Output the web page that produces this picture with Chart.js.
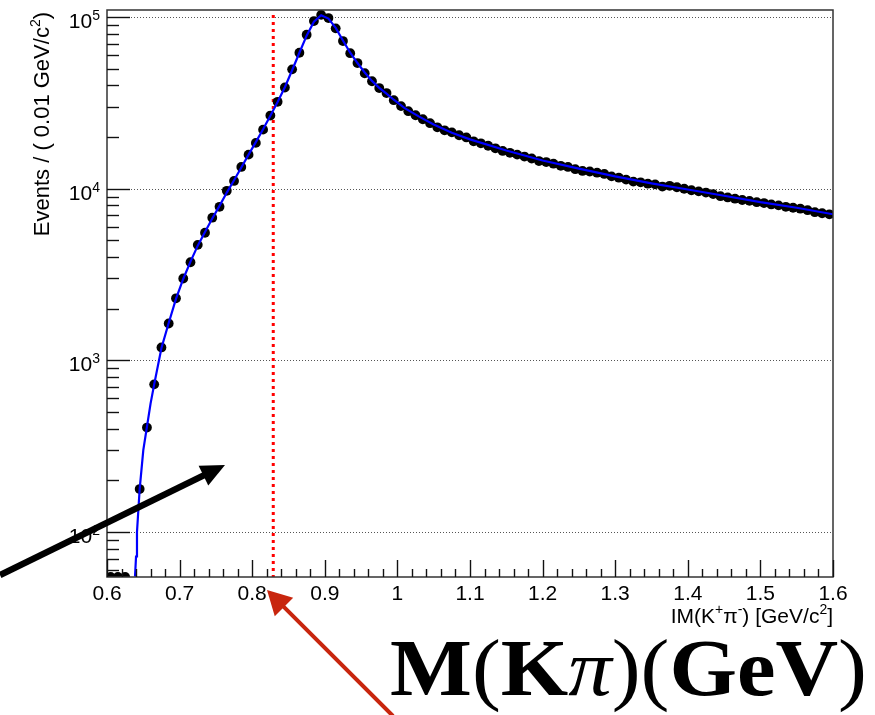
<!DOCTYPE html>
<html>
<head>
<meta charset="utf-8">
<script src="https://cdn.jsdelivr.net/npm/chart.js@4.4.1/dist/chart.umd.min.js"></script>
<style>
html,body{margin:0;padding:0;background:#fff;}
</style>
</head>
<body>
<canvas id="c" width="875" height="715"></canvas>
<script>
// bin centres of the IM(K+pi-) histogram, 0.01 GeV bins
const binCenters=[
0.605,0.615,0.625,0.635,0.645,0.655,0.665,0.675,0.685,0.695,
0.705,0.715,0.725,0.735,0.745,0.755,0.765,0.775,0.785,0.795,
0.805,0.815,0.825,0.835,0.845,0.855,0.865,0.875,0.885,0.895,
0.905,0.915,0.925,0.935,0.945,0.955,0.965,0.975,0.985,0.995,
1.005,1.015,1.025,1.035,1.045,1.055,1.065,1.075,1.085,1.095,
1.105,1.115,1.125,1.135,1.145,1.155,1.165,1.175,1.185,1.195,
1.205,1.215,1.225,1.235,1.245,1.255,1.265,1.275,1.285,1.295,
1.305,1.315,1.325,1.335,1.345,1.355,1.365,1.375,1.385,1.395,
1.405,1.415,1.425,1.435,1.445,1.455,1.465,1.475,1.485,1.495,
1.505,1.515,1.525,1.535,1.545,1.555,1.565,1.575,1.585,1.595];

// events per bin
const events=[
0,0,0,15,178,406,725,1190,1640,2300,
3000,3730,4710,5540,6780,7850,9730,11100,13400,15800,
18500,22100,26700,32100,38900,49600,62000,79000,94800,103000,
98700,86000,72500,61600,54000,47100,42300,38600,36100,32800,
30300,28300,26800,25400,24100,22800,21900,21300,20500,19900,
18900,18400,17800,17200,16600,16200,15800,15400,15000,14500,
14300,14000,13600,13400,13000,12700,12600,12400,12200,11800,
11600,11300,11000,10900,10700,10600,10300,10400,10200,10000,
9800,9650,9500,9300,9050,8900,8750,8600,8500,8350,
8250,8100,8000,7850,7750,7650,7500,7300,7200,7100];

// fit curve
const fitMass=[0.6386,0.640,0.6413,0.645,0.650,0.655,0.660,0.665,0.675,0.685,0.695,
0.705,0.715,0.725,0.735,0.745,0.755,0.765,0.775,0.785,0.795,0.805,0.815,0.825,0.835,
0.845,0.855,0.865,0.875,0.885,0.895,0.905,0.915,0.925,0.935,0.945,0.955,0.965,0.975,
0.985,0.995,1.010,1.030,1.050,1.075,1.100,1.150,1.200,1.250,1.300,1.350,1.400,1.450,
1.500,1.550,1.600];
const fitEvents=[55,72,100,178,300,410,560,725,1180,1650,2280,
2980,3760,4660,5600,6700,7950,9500,11200,13300,15800,18700,22200,26600,32000,
39000,49000,62000,78000,94000,102500,98000,86500,73000,62000,54000,47600,42500,38700,
35800,33000,29500,26300,23700,21200,19400,16700,14600,13100,11800,10750,9900,9100,
8350,7750,7100];

const xTicks=[0.6,0.7,0.8,0.9,1,1.1,1.2,1.3,1.4,1.5,1.6];
const xTickLabels=['0.6','0.7','0.8','0.9','1','1.1','1.2','1.3','1.4','1.5','1.6'];
const yTicks=[100,1000,10000,100000];
const yTickExp=['2','3','4','5'];
const cutMass=0.829;
const yMin=54.7,yMax=110000;

const SANS='"Liberation Sans", Arial, sans-serif';

// text with superscripts: parts = [[text, sup], ...]
function richWidth(ctx,parts,size){
let w=0;
parts.forEach(p=>{
ctx.font=(p[1]?Math.round(size*0.65):size)+'px '+SANS;
w+=ctx.measureText(p[0]).width;
});
return w;
}
function drawRich(ctx,parts,x,y,size,align){
let w=richWidth(ctx,parts,size);
let cx=align==='right'?x-w:(align==='center'?x-w/2:x);
ctx.textAlign='left';
ctx.textBaseline='alphabetic';
parts.forEach(p=>{
ctx.font=(p[1]?Math.round(size*0.65):size)+'px '+SANS;
ctx.fillText(p[0],cx,p[1]?y-size*0.42:y);
cx+=ctx.measureText(p[0]).width;
});
}

function arrow(ctx,x1,y1,x2,y2,lw,headLen,headHalf,color){
let dx=x2-x1,dy=y2-y1,len=Math.hypot(dx,dy);
let ux=dx/len,uy=dy/len;
let bx=x2-ux*headLen,by=y2-uy*headLen;
ctx.save();
ctx.strokeStyle=color;ctx.fillStyle=color;
ctx.lineWidth=lw;ctx.lineCap='butt';
ctx.beginPath();ctx.moveTo(x1,y1);ctx.lineTo(bx+ux*2,by+uy*2);ctx.stroke();
ctx.beginPath();
ctx.moveTo(x2,y2);
ctx.lineTo(bx-uy*headHalf,by+ux*headHalf);
ctx.lineTo(bx+uy*headHalf,by-ux*headHalf);
ctx.closePath();ctx.fill();
ctx.restore();
}

const rootFrame={
id:'rootFrame',
beforeDatasetsDraw(chart){
const ctx=chart.ctx,a=chart.chartArea,x=chart.scales.x,y=chart.scales.y;
ctx.save();
// dotted grid at decades
ctx.strokeStyle='#555';ctx.lineWidth=1;ctx.setLineDash([1,2]);
yTicks.forEach(v=>{
let py=Math.round(y.getPixelForValue(v))+0.5;
ctx.beginPath();ctx.moveTo(a.left,py);ctx.lineTo(a.right,py);ctx.stroke();
});
// cut line
let px=x.getPixelForValue(cutMass);
ctx.strokeStyle='#ff0000';ctx.lineWidth=3;ctx.setLineDash([3,4]);
ctx.beginPath();ctx.moveTo(px,y.getPixelForValue(100000)-2);ctx.lineTo(px,a.bottom);ctx.stroke();
ctx.restore();
},
afterDatasetsDraw(chart){
const ctx=chart.ctx,a=chart.chartArea,x=chart.scales.x,y=chart.scales.y;
ctx.save();
// frame
ctx.strokeStyle='#333';ctx.lineWidth=1.5;
ctx.strokeRect(a.left,a.top,a.right-a.left,a.bottom-a.top);
// y ticks
ctx.strokeStyle='#111';ctx.lineWidth=1.4;
for(let d=10;d<=100000;d*=10){
for(let k=1;k<10;k++){
let v=d*k;
if(v<y.min||v>y.max) continue;
let py=Math.round(y.getPixelForValue(v))+0.5;
let len=k===1?23:12;
ctx.beginPath();ctx.moveTo(a.left,py);ctx.lineTo(a.left+len,py);ctx.stroke();
}
}
// x ticks
for(let i=0;i<=50;i++){
let v=0.6+i*0.02;
let px=Math.round(x.getPixelForValue(v))+0.5;
let len=i%5===0?17:8;
ctx.beginPath();ctx.moveTo(px,a.bottom);ctx.lineTo(px,a.bottom-len);ctx.stroke();
}
// tick labels
ctx.fillStyle='#000';
ctx.font='21px '+SANS;ctx.textAlign='center';ctx.textBaseline='alphabetic';
xTicks.forEach((v,i)=>{
ctx.fillText(xTickLabels[i],x.getPixelForValue(v),a.bottom+23);
});
yTicks.forEach((v,i)=>{
let py=y.getPixelForValue(v);
ctx.font='14px '+SANS;ctx.textAlign='right';
let ew=ctx.measureText(yTickExp[i]).width;
ctx.fillText(yTickExp[i],100,py+3);
ctx.font='21px '+SANS;
ctx.fillText('10',100-ew,py+11);
});
// axis titles
ctx.save();
ctx.translate(49,12);ctx.rotate(-Math.PI/2);
drawRich(ctx,[['Events / ( 0.01 GeV/c',0],['2',1],[')',0]],0,0,22,'right');
ctx.restore();
drawRich(ctx,[['IM(K',0],['+',1],['\u03c0',0],['-',1],[') [GeV/c',0],['2',1],[']',0]],a.right,623,21,'right');
// big annotation
const big=[['M','bold '],['(',''],['K','bold '],['\u03c0','italic '],[')(',''],['GeV','bold '],[')','']];
const bs=80,serif='"Liberation Serif", "Times New Roman", serif';
let bw=0;
big.forEach(p=>{ctx.font=p[1]+bs+'px '+serif;bw+=ctx.measureText(p[0]).width;});
ctx.save();
ctx.translate(390,695);ctx.scale(477/bw,1);
let bx=0;ctx.textAlign='left';
big.forEach(p=>{ctx.font=p[1]+bs+'px '+serif;ctx.fillText(p[0],bx,0);bx+=ctx.measureText(p[0]).width;});
ctx.restore();
// arrows
arrow(ctx,0,575,225,465,6.5,24,11,'#000');
arrow(ctx,393,716,267,590,4,24,13,'#c8260e');
ctx.restore();
}
};

new Chart(document.getElementById('c'),{
type:'scatter',
data:{
datasets:[
{
label:'fit',
type:'line',
data:fitMass.map((m,i)=>({x:m,y:fitEvents[i]})),
borderColor:'#0000ff',
borderWidth:2.2,
pointRadius:0,
tension:0,
fill:false
},
{
label:'data',
// empty bins sit on the lower edge of the log axis, as in ROOT
data:binCenters.map((m,i)=>({x:m,y:events[i]>0?events[i]:yMin})),
backgroundColor:'#000',
borderColor:'#000',
borderWidth:0,
pointRadius:4.9
}
]
},
options:{
responsive:false,
animation:false,
devicePixelRatio:1,
layout:{padding:{left:107,right:42,top:10,bottom:138}},
scales:{
x:{type:'linear',min:0.6,max:1.6,display:false},
y:{type:'logarithmic',min:yMin,max:yMax,display:false}
},
plugins:{legend:{display:false},tooltip:{enabled:false}}
},
plugins:[rootFrame]
});
</script>
</body>
</html>
